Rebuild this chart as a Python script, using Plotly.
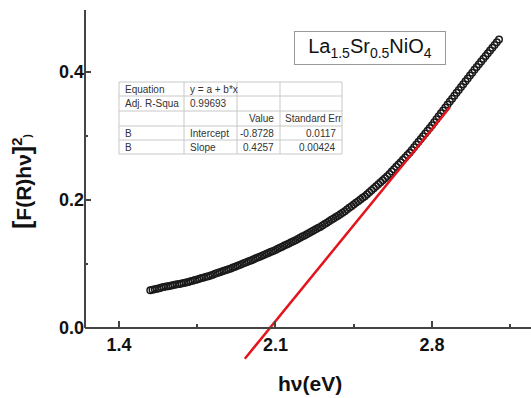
import plotly.graph_objects as go

# ---- data ----
energy_ev = [1.54, 1.55, 1.56, 1.57, 1.58, 1.59, 1.60,
             1.61, 1.62, 1.63, 1.64, 1.65, 1.66, 1.67, 1.68, 1.69, 1.70,
             1.71, 1.72, 1.73, 1.74, 1.75, 1.76, 1.77, 1.78, 1.79, 1.80,
             1.81, 1.82, 1.83, 1.84, 1.85, 1.86, 1.87, 1.88, 1.89, 1.90,
             1.91, 1.92, 1.93, 1.94, 1.95, 1.96, 1.97, 1.98, 1.99, 2.00,
             2.01, 2.02, 2.03, 2.04, 2.05, 2.06, 2.07, 2.08, 2.09, 2.10,
             2.11, 2.12, 2.13, 2.14, 2.15, 2.16, 2.17, 2.18, 2.19, 2.20,
             2.21, 2.22, 2.23, 2.24, 2.25, 2.26, 2.27, 2.28, 2.29, 2.30,
             2.31, 2.32, 2.33, 2.34, 2.35, 2.36, 2.37, 2.38, 2.39, 2.40,
             2.41, 2.42, 2.43, 2.44, 2.45, 2.46, 2.47, 2.48, 2.49, 2.50,
             2.51, 2.52, 2.53, 2.54, 2.55, 2.56, 2.57, 2.58, 2.59, 2.60,
             2.61, 2.62, 2.63, 2.64, 2.65, 2.66, 2.67, 2.68, 2.69, 2.70,
             2.71, 2.72, 2.73, 2.74, 2.75, 2.76, 2.77, 2.78, 2.79, 2.80,
             2.81, 2.82, 2.83, 2.84, 2.85, 2.86, 2.87, 2.88, 2.89, 2.90,
             2.91, 2.92, 2.93, 2.94, 2.95, 2.96, 2.97, 2.98, 2.99, 3.00,
             3.01, 3.02, 3.03, 3.04, 3.05, 3.06, 3.07, 3.08, 3.09, 3.10]
fr_hv_sq = [0.0590, 0.0598, 0.0607, 0.0615, 0.0623, 0.0632, 0.0640,
            0.0647, 0.0654, 0.0661, 0.0668, 0.0675, 0.0682, 0.0689, 0.0696, 0.0703, 0.0710,
            0.0720, 0.0730, 0.0740, 0.0750, 0.0760, 0.0770, 0.0780, 0.0790, 0.0800, 0.0810,
            0.0822, 0.0834, 0.0846, 0.0858, 0.0870, 0.0882, 0.0894, 0.0906, 0.0918, 0.0930,
            0.0944, 0.0958, 0.0972, 0.0986, 0.1000, 0.1014, 0.1028, 0.1042, 0.1056, 0.1070,
            0.1085, 0.1100, 0.1115, 0.1130, 0.1145, 0.1160, 0.1175, 0.1190, 0.1205, 0.1220,
            0.1237, 0.1254, 0.1271, 0.1288, 0.1305, 0.1322, 0.1339, 0.1356, 0.1373, 0.1390,
            0.1409, 0.1428, 0.1447, 0.1466, 0.1485, 0.1504, 0.1523, 0.1542, 0.1561, 0.1580,
            0.1602, 0.1624, 0.1646, 0.1668, 0.1690, 0.1712, 0.1734, 0.1756, 0.1778, 0.1800,
            0.1826, 0.1852, 0.1878, 0.1904, 0.1930, 0.1956, 0.1982, 0.2008, 0.2034, 0.2060,
            0.2091, 0.2122, 0.2153, 0.2184, 0.2215, 0.2246, 0.2277, 0.2308, 0.2339, 0.2370,
            0.2407, 0.2444, 0.2481, 0.2518, 0.2555, 0.2592, 0.2629, 0.2666, 0.2703, 0.2740,
            0.2783, 0.2826, 0.2869, 0.2912, 0.2955, 0.2998, 0.3041, 0.3084, 0.3127, 0.3170,
            0.3216, 0.3262, 0.3308, 0.3354, 0.3400, 0.3446, 0.3492, 0.3538, 0.3584, 0.3630,
            0.3675, 0.3720, 0.3765, 0.3810, 0.3855, 0.3900, 0.3945, 0.3990, 0.4035, 0.4080,
            0.4123, 0.4166, 0.4209, 0.4252, 0.4295, 0.4338, 0.4381, 0.4424, 0.4467, 0.4510]

fit_x = [1.963, 2.880]
fit_y = [-0.048, 0.345]

x_tick_vals = [1.4, 2.1, 2.8]
x_tick_text = ["1.4", "2.1", "2.8"]
x_minor_vals = [1.75, 2.45, 3.15]
y_tick_vals = [0.0, 0.2, 0.4]
y_tick_text = ["0.0", "0.2", "0.4"]
y_minor_vals = [0.1, 0.3]

# fit-result table (rows as shown in the inset)
table_rows = [
    ["Equation", "y = a + b*x", "", ""],
    ["Adj. R-Squa", "0.99693", "", ""],
    ["", "", "Value", "Standard Err"],
    ["B", "Intercept", "-0.8728", "0.0117"],
    ["B", "Slope", "0.4257", "0.00424"],
]

sample_label = "La<sub>1.5</sub>Sr<sub>0.5</sub>NiO<sub>4</sub>"

# ---- layout geometry ----
W, H = 531, 398
ML, MR, MT, MB = 85, 0, 10, 28
PW, PH = W - ML - MR, H - MT - MB
X_RANGE = [1.248, 3.243]
Y_RANGE = [-0.0656, 0.4969]
x_pos = (0 - Y_RANGE[0]) / (Y_RANGE[1] - Y_RANGE[0])

FONT = "Liberation Sans, Arial, sans-serif"
AXC = "#444444"


def px2x(px):
    return (px - ML) / PW


def px2y(py):
    return (H - MB - py) / PH


fig = go.Figure()

fig.add_trace(go.Scatter(
    x=energy_ev, y=fr_hv_sq, mode="markers",
    marker=dict(symbol="circle-open", size=6.5, color="#1a1a1a", line=dict(width=1.5)),
    showlegend=False, cliponaxis=False))

fig.add_trace(go.Scatter(
    x=fit_x, y=fit_y, mode="lines",
    line=dict(color="#e3141b", width=2.5),
    showlegend=False))

# ---- inset table (text + grid) ----
col_edges = [119, 184, 237, 280, 342]
row_edges = [82, 96, 111, 126, 140, 154]
# per-column text anchor: (pixel x, xanchor)
col_anchor = [(123, "left"), (188, "left"), (276, "right"), (338, "right")]

shapes = [dict(type="line", xref="paper", yref="y", x0=0, x1=0,
               y0=0, y1=Y_RANGE[1], line=dict(color=AXC, width=2))]
TL = "#c8c8c8"
for cx in col_edges:
    shapes.append(dict(type="line", xref="paper", yref="paper",
                       x0=px2x(cx), x1=px2x(cx),
                       y0=px2y(row_edges[0]), y1=px2y(row_edges[-1]),
                       line=dict(color=TL, width=1)))
for ry in row_edges:
    shapes.append(dict(type="line", xref="paper", yref="paper",
                       x0=px2x(col_edges[0]), x1=px2x(col_edges[-1]),
                       y0=px2y(ry), y1=px2y(ry),
                       line=dict(color=TL, width=1)))

annotations = []
for ri, row in enumerate(table_rows):
    yc = (row_edges[ri] + row_edges[ri + 1]) / 2
    for ci, txt in enumerate(row):
        if not txt:
            continue
        ax, anc = col_anchor[ci]
        if txt == "Value" or txt == "Standard Err":
            anc = "left" if txt == "Standard Err" else "right"
            ax = 283 if txt == "Standard Err" else ax
        annotations.append(dict(text=txt, xref="paper", yref="paper",
                                x=px2x(ax), y=px2y(yc), xanchor=anc, yanchor="middle",
                                showarrow=False,
                                font=dict(family=FONT, size=10, color="#333333")))

annotations += [
    dict(text=sample_label, xref="paper", yref="paper",
         x=px2x(370), y=px2y(31), showarrow=False,
         font=dict(family=FONT, size=20, color="#111111"),
         bordercolor="#999999", borderwidth=1, bgcolor="white",
         width=148, height=30),
    dict(text="h\u03bd(eV)", xref="paper", yref="paper",
         x=px2x(310), y=0, yshift=-13, yanchor="middle",
         showarrow=False,
         font=dict(family=FONT, size=21, color="#111111", weight="bold")),
    dict(text='<span style="font-size:25px">[</span>F(R)h\u03bd<span style="font-size:25px">]</span><sup>2</sup><span style="font-size:11px">)</span>',
         xref="paper", yref="paper", x=0, xshift=-63,
         y=px2y(182), textangle=-90, showarrow=False,
         xanchor="center", yanchor="middle",
         font=dict(family=FONT, size=21, color="#111111", weight="bold")),
]

fig.update_layout(
    width=W, height=H,
    margin=dict(l=ML, r=MR, t=MT, b=MB),
    paper_bgcolor="white", plot_bgcolor="white",
    font=dict(family=FONT, color="#111111"),
    xaxis=dict(range=X_RANGE, anchor="free", position=x_pos,
               showline=True, linecolor=AXC, linewidth=2,
               showgrid=False, zeroline=False,
               tickmode="array", tickvals=x_tick_vals, ticktext=x_tick_text,
               ticks="inside", ticklen=6, tickwidth=1.5, tickcolor=AXC,
               tickfont=dict(family=FONT, size=18, color="#111111", weight="bold"),
               minor=dict(tickvals=x_minor_vals, ticks="inside", ticklen=3,
                          tickwidth=1.5, tickcolor=AXC),
               automargin=False),
    yaxis=dict(range=Y_RANGE, showline=False, showgrid=False, zeroline=False,
               tickmode="array", tickvals=y_tick_vals, ticktext=y_tick_text,
               ticks="inside", ticklen=6, tickwidth=1.5, tickcolor=AXC,
               tickfont=dict(family=FONT, size=18, color="#111111", weight="bold"),
               minor=dict(tickvals=y_minor_vals, ticks="inside", ticklen=3,
                          tickwidth=1.5, tickcolor=AXC),
               automargin=False),
    shapes=shapes,
    annotations=annotations,
)

fig.write_html("out.html")
